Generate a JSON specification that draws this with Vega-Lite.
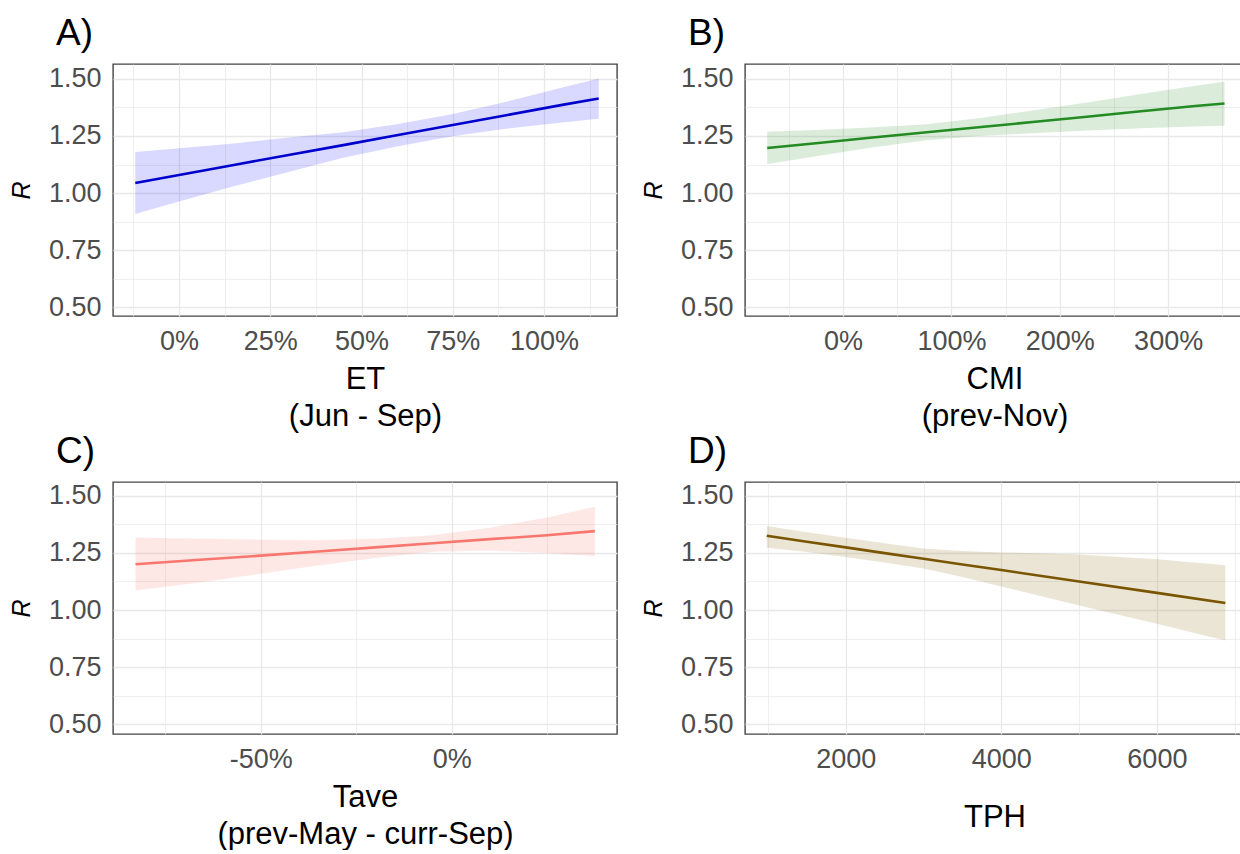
{
  "$schema": "https://vega.github.io/schema/vega-lite/v6.json",
  "background": "white",
  "padding": {"left": 8, "top": 14, "right": 0, "bottom": 0},
  "datasets": {
    "A": [
      {"x": -0.12, "fit": 1.044, "lo": 0.909, "hi": 1.180},
      {"x": 0.0, "fit": 1.079, "lo": 0.963, "hi": 1.196},
      {"x": 0.15, "fit": 1.123, "lo": 1.030, "hi": 1.217},
      {"x": 0.3, "fit": 1.167, "lo": 1.092, "hi": 1.243},
      {"x": 0.45, "fit": 1.210, "lo": 1.155, "hi": 1.266},
      {"x": 0.6, "fit": 1.254, "lo": 1.205, "hi": 1.302},
      {"x": 0.75, "fit": 1.298, "lo": 1.249, "hi": 1.346},
      {"x": 0.9, "fit": 1.342, "lo": 1.283, "hi": 1.401},
      {"x": 1.05, "fit": 1.386, "lo": 1.309, "hi": 1.462},
      {"x": 1.15, "fit": 1.414, "lo": 1.325, "hi": 1.502}
    ],
    "B": [
      {"x": -0.70, "fit": 1.197, "lo": 1.127, "hi": 1.268},
      {"x": -0.25, "fit": 1.218, "lo": 1.161, "hi": 1.276},
      {"x": 0.25, "fit": 1.242, "lo": 1.198, "hi": 1.287},
      {"x": 0.75, "fit": 1.265, "lo": 1.230, "hi": 1.300},
      {"x": 1.25, "fit": 1.288, "lo": 1.250, "hi": 1.328},
      {"x": 1.75, "fit": 1.311, "lo": 1.262, "hi": 1.362},
      {"x": 2.25, "fit": 1.334, "lo": 1.274, "hi": 1.396},
      {"x": 2.75, "fit": 1.358, "lo": 1.284, "hi": 1.434},
      {"x": 3.25, "fit": 1.381, "lo": 1.291, "hi": 1.470},
      {"x": 3.52, "fit": 1.392, "lo": 1.295, "hi": 1.487}
    ],
    "C": [
      {"x": -0.828, "fit": 1.200, "lo": 1.086, "hi": 1.317},
      {"x": -0.65, "fit": 1.221, "lo": 1.123, "hi": 1.312},
      {"x": -0.5, "fit": 1.238, "lo": 1.159, "hi": 1.308},
      {"x": -0.35, "fit": 1.256, "lo": 1.195, "hi": 1.305},
      {"x": -0.2, "fit": 1.274, "lo": 1.228, "hi": 1.312},
      {"x": -0.05, "fit": 1.292, "lo": 1.255, "hi": 1.327},
      {"x": 0.1, "fit": 1.310, "lo": 1.260, "hi": 1.360},
      {"x": 0.25, "fit": 1.327, "lo": 1.250, "hi": 1.405},
      {"x": 0.375, "fit": 1.345, "lo": 1.236, "hi": 1.452}
    ],
    "D": [
      {"x": 985, "fit": 1.325, "lo": 1.272, "hi": 1.368},
      {"x": 1500, "fit": 1.299, "lo": 1.254, "hi": 1.340},
      {"x": 2000, "fit": 1.274, "lo": 1.232, "hi": 1.316},
      {"x": 2500, "fit": 1.249, "lo": 1.208, "hi": 1.292},
      {"x": 3000, "fit": 1.224, "lo": 1.182, "hi": 1.269},
      {"x": 3500, "fit": 1.199, "lo": 1.145, "hi": 1.258},
      {"x": 4000, "fit": 1.175, "lo": 1.103, "hi": 1.252},
      {"x": 5000, "fit": 1.125, "lo": 1.020, "hi": 1.243},
      {"x": 6000, "fit": 1.075, "lo": 0.940, "hi": 1.222},
      {"x": 6880, "fit": 1.031, "lo": 0.867, "hi": 1.196}
    ]
  },
  "columns": 2,
  "spacing": {"row": 0, "column": 22},
  "concat": [
    {
      "title": {"text": "A)"},
      "width": 504, "height": 252,
      "data": {"name": "A"},
      "encoding": {
        "x": {"field": "x", "type": "quantitative", "scale": {"domain": [-0.181, 1.2], "nice": false, "zero": false},
          "axis": {"title": ["ET", "(Jun - Sep)"], "values": [-0.125, 0, 0.125, 0.25, 0.375, 0.5, 0.625, 0.75, 0.875, 1, 1.125],
            "labelExpr": "abs(datum.value*4-round(datum.value*4))<0.001 ? round(datum.value*100) + '%' : ''",
            "gridWidth": {"condition": {"test": "abs(datum.value*4-round(datum.value*4))<0.001", "value": 1.3}, "value": 0.7}}}
      },
      "layer": [
        {"mark": {"type": "area", "color": "#0000FF", "fillOpacity": 0.15},
         "encoding": {"y": {"field": "lo", "type": "quantitative", "scale": {"domain": [0.462, 1.565], "nice": false, "zero": false},
           "axis": {"title": "R", "values": [0.5, 0.625, 0.75, 0.875, 1, 1.125, 1.25, 1.375, 1.5],
             "labelExpr": "abs(datum.value*4-round(datum.value*4))<0.001 ? format(datum.value, '.2f') : ''",
             "gridWidth": {"condition": {"test": "abs(datum.value*4-round(datum.value*4))<0.001", "value": 1.3}, "value": 0.7}}},
           "y2": {"field": "hi"}}},
        {"mark": {"type": "line", "color": "#0000CC", "strokeWidth": 2.6},
         "encoding": {"y": {"field": "fit", "type": "quantitative",
           "axis": {"title": "R", "values": [0.5, 0.625, 0.75, 0.875, 1, 1.125, 1.25, 1.375, 1.5],
             "labelExpr": "abs(datum.value*4-round(datum.value*4))<0.001 ? format(datum.value, '.2f') : ''",
             "gridWidth": {"condition": {"test": "abs(datum.value*4-round(datum.value*4))<0.001", "value": 1.3}, "value": 0.7}}}}}
      ]
    },
    {
      "title": {"text": "B)"},
      "width": 499, "height": 252,
      "data": {"name": "B"},
      "encoding": {
        "x": {"field": "x", "type": "quantitative", "scale": {"domain": [-0.905, 3.7], "nice": false, "zero": false},
          "axis": {"title": ["CMI", "(prev-Nov)"], "values": [-0.5, 0, 0.5, 1, 1.5, 2, 2.5, 3, 3.5],
            "labelExpr": "abs(datum.value-round(datum.value))<0.001 ? round(datum.value*100) + '%' : ''",
            "gridWidth": {"condition": {"test": "abs(datum.value-round(datum.value))<0.001", "value": 1.3}, "value": 0.7}}}
      },
      "layer": [
        {"mark": {"type": "area", "color": "#228B22", "fillOpacity": 0.16},
         "encoding": {"y": {"field": "lo", "type": "quantitative", "scale": {"domain": [0.462, 1.565], "nice": false, "zero": false},
           "axis": {"title": "R", "values": [0.5, 0.625, 0.75, 0.875, 1, 1.125, 1.25, 1.375, 1.5],
             "labelExpr": "abs(datum.value*4-round(datum.value*4))<0.001 ? format(datum.value, '.2f') : ''",
             "gridWidth": {"condition": {"test": "abs(datum.value*4-round(datum.value*4))<0.001", "value": 1.3}, "value": 0.7}}},
           "y2": {"field": "hi"}}},
        {"mark": {"type": "line", "color": "#228B22", "strokeWidth": 2.6},
         "encoding": {"y": {"field": "fit", "type": "quantitative",
           "axis": {"title": "R", "values": [0.5, 0.625, 0.75, 0.875, 1, 1.125, 1.25, 1.375, 1.5],
             "labelExpr": "abs(datum.value*4-round(datum.value*4))<0.001 ? format(datum.value, '.2f') : ''",
             "gridWidth": {"condition": {"test": "abs(datum.value*4-round(datum.value*4))<0.001", "value": 1.3}, "value": 0.7}}}}}
      ]
    },
    {
      "title": {"text": "C)"},
      "width": 504, "height": 252,
      "data": {"name": "C"},
      "encoding": {
        "x": {"field": "x", "type": "quantitative", "scale": {"domain": [-0.887, 0.433], "nice": false, "zero": false},
          "axis": {"title": ["Tave", "(prev-May - curr-Sep)"], "values": [-0.75, -0.5, -0.25, 0, 0.25],
            "labelExpr": "abs(datum.value*2-round(datum.value*2))<0.001 ? round(datum.value*100) + '%' : ''",
            "gridWidth": {"condition": {"test": "abs(datum.value*2-round(datum.value*2))<0.001", "value": 1.3}, "value": 0.7}}}
      },
      "layer": [
        {"mark": {"type": "area", "color": "#F8766D", "fillOpacity": 0.17},
         "encoding": {"y": {"field": "lo", "type": "quantitative", "scale": {"domain": [0.458, 1.56], "nice": false, "zero": false},
           "axis": {"title": "R", "values": [0.5, 0.625, 0.75, 0.875, 1, 1.125, 1.25, 1.375, 1.5],
             "labelExpr": "abs(datum.value*4-round(datum.value*4))<0.001 ? format(datum.value, '.2f') : ''",
             "gridWidth": {"condition": {"test": "abs(datum.value*4-round(datum.value*4))<0.001", "value": 1.3}, "value": 0.7}}},
           "y2": {"field": "hi"}}},
        {"mark": {"type": "line", "color": "#F8766D", "strokeWidth": 2.6},
         "encoding": {"y": {"field": "fit", "type": "quantitative",
           "axis": {"title": "R", "values": [0.5, 0.625, 0.75, 0.875, 1, 1.125, 1.25, 1.375, 1.5],
             "labelExpr": "abs(datum.value*4-round(datum.value*4))<0.001 ? format(datum.value, '.2f') : ''",
             "gridWidth": {"condition": {"test": "abs(datum.value*4-round(datum.value*4))<0.001", "value": 1.3}, "value": 0.7}}}}}
      ]
    },
    {
      "title": {"text": "D)"},
      "width": 499, "height": 252,
      "data": {"name": "D"},
      "encoding": {
        "x": {"field": "x", "type": "quantitative", "scale": {"domain": [705, 7120], "nice": false, "zero": false},
          "axis": {"title": "TPH", "titlePadding": 30, "values": [1000, 2000, 3000, 4000, 5000, 6000, 7000],
            "labelExpr": "datum.value % 2000 == 0 ? toString(datum.value) : ''",
            "gridWidth": {"condition": {"test": "datum.value % 2000 == 0", "value": 1.3}, "value": 0.7}}}
      },
      "layer": [
        {"mark": {"type": "area", "color": "#8B6508", "fillOpacity": 0.17},
         "encoding": {"y": {"field": "lo", "type": "quantitative", "scale": {"domain": [0.458, 1.56], "nice": false, "zero": false},
           "axis": {"title": "R", "values": [0.5, 0.625, 0.75, 0.875, 1, 1.125, 1.25, 1.375, 1.5],
             "labelExpr": "abs(datum.value*4-round(datum.value*4))<0.001 ? format(datum.value, '.2f') : ''",
             "gridWidth": {"condition": {"test": "abs(datum.value*4-round(datum.value*4))<0.001", "value": 1.3}, "value": 0.7}}},
           "y2": {"field": "hi"}}},
        {"mark": {"type": "line", "color": "#7A5500", "strokeWidth": 2.6},
         "encoding": {"y": {"field": "fit", "type": "quantitative",
           "axis": {"title": "R", "values": [0.5, 0.625, 0.75, 0.875, 1, 1.125, 1.25, 1.375, 1.5],
             "labelExpr": "abs(datum.value*4-round(datum.value*4))<0.001 ? format(datum.value, '.2f') : ''",
             "gridWidth": {"condition": {"test": "abs(datum.value*4-round(datum.value*4))<0.001", "value": 1.3}, "value": 0.7}}}}}
      ]
    }
  ],
  "config": {
    "font": "Liberation Sans",
    "view": {"stroke": "#444444", "strokeWidth": 1.4},
    "title": {"font": "Liberation Sans", "fontSize": 37, "fontWeight": "normal", "color": "#000000", "anchor": "start", "frame": "group", "dx": -57, "offset": 11},
    "axis": {
      "labelFont": "Liberation Sans", "labelFontSize": 27, "labelColor": "#4D4D4D",
      "titleFont": "Liberation Sans", "titleFontSize": 31, "titleColor": "#000000", "titleFontWeight": "normal",
      "ticks": false, "domain": false, "gridColor": "#E8E8E8", "labelOverlap": false, "labelFlush": false
    },
    "axisX": {"labelPadding": 12, "titlePadding": 10, "titleLineHeight": 37},
    "axisY": {"titleFontStyle": "italic", "titleFontSize": 25, "titlePadding": 14, "labelPadding": 12}
  }
}
